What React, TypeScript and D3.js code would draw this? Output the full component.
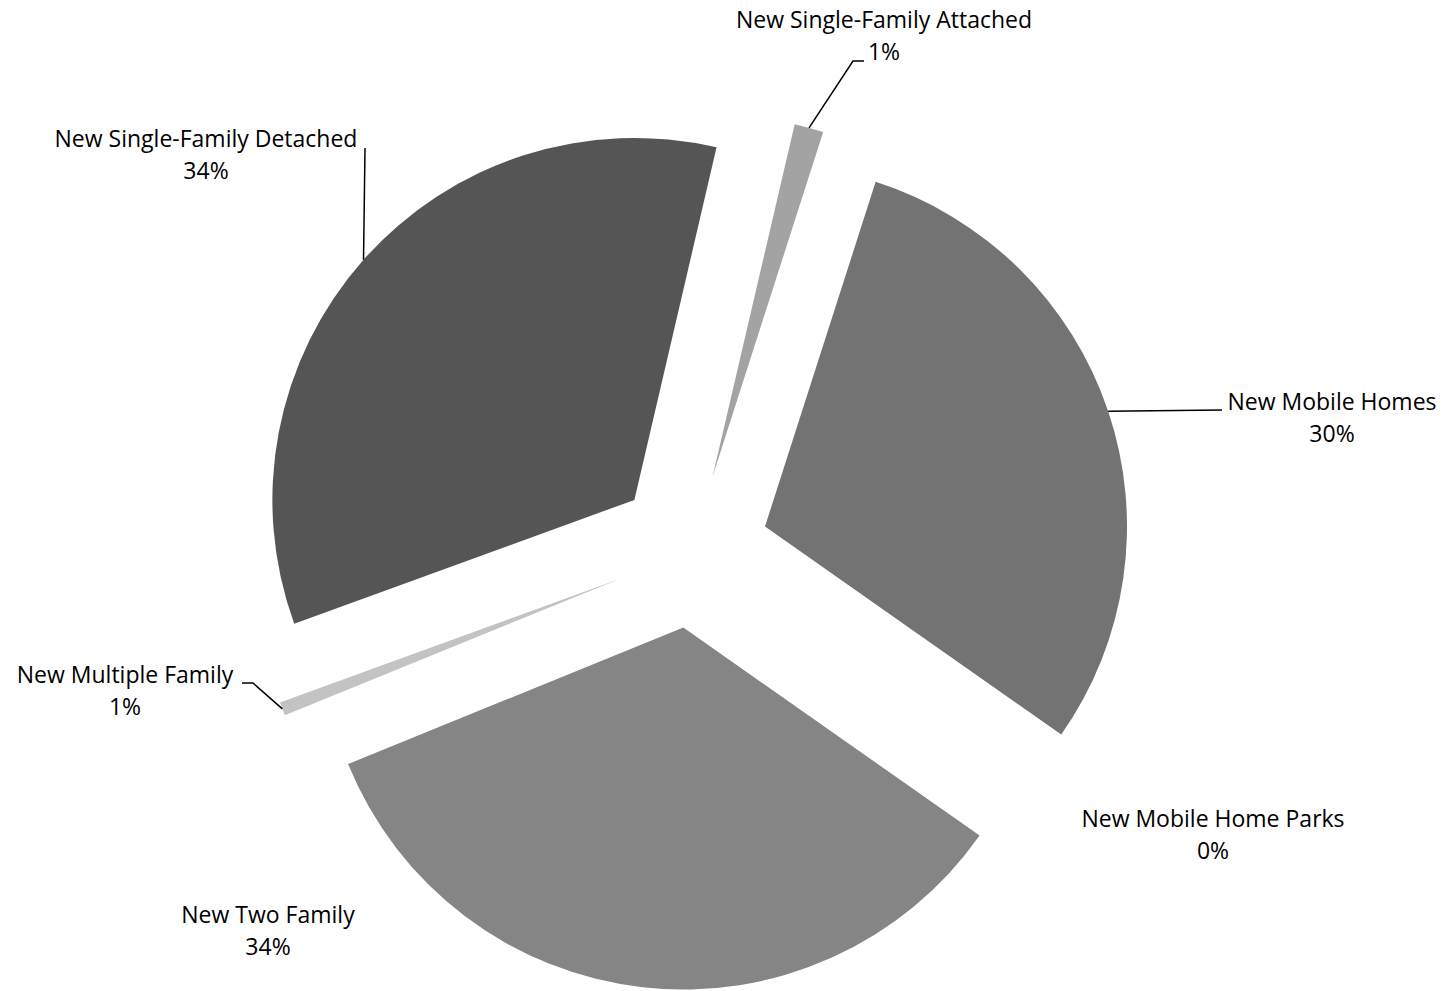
import { useEffect, useRef } from "react";
import * as d3 from "d3";

// Slices in Excel order, clockwise from the first-slice angle
const categories = [
  "New Single-Family Detached",
  "New Single-Family Attached",
  "New Mobile Homes",
  "New Mobile Home Parks",
  "New Two Family",
  "New Multiple Family",
];
const values = [34.2, 1.3, 29.8, 0, 34.1, 0.6];
const colors = ["#555555", "#a3a3a3", "#737373", "#6a6a6a", "#858585", "#c3c3c3"];

// label placement (center x, first baseline y) and leader bends
const labelLayout: { x: number; y: number; leader: [number, number][] }[] = [
  { x: 206, y: 147, leader: [[365, 148]] },
  { x: 884, y: 28, leader: [[853, 61], [864, 61]] },
  { x: 1332, y: 410, leader: [[1222, 410]] },
  { x: 1213, y: 827, leader: [] },
  { x: 268, y: 923, leader: [] },
  { x: 125, y: 683, leader: [[253, 683], [242, 683]] },
];

const WIDTH = 1450;
const HEIGHT = 991;

export default function App() {
  const svgRef = useRef<SVGSVGElement>(null);

  useEffect(() => {
    const svg = svgRef.current;
    if (!svg) return;
    const sel = d3.select(svg);
    sel.selectAll("*").remove();

    const cx = 692;
    const cy = 551;
    const radius = 362;
    const explode = 77;
    const firstAngle = (250 * Math.PI) / 180;

    const total = d3.sum(values);
    const data = categories.map((name, i) => ({
      name,
      value: values[i],
      color: colors[i],
      layout: labelLayout[i],
    }));

    const pie = d3
      .pie<(typeof data)[number]>()
      .sort(null)
      .value((d) => d.value)
      .startAngle(firstAngle)
      .endAngle(firstAngle + 2 * Math.PI);

    const arc = d3
      .arc<d3.PieArcDatum<(typeof data)[number]>>()
      .innerRadius(0)
      .outerRadius(radius);

    const arcs = pie(data);
    const g = sel.append("g").attr("transform", `translate(${cx},${cy})`);

    const offset = (a: d3.PieArcDatum<unknown>) => {
      const mid = (a.startAngle + a.endAngle) / 2;
      return [Math.sin(mid) * explode, -Math.cos(mid) * explode];
    };

    g.selectAll("path.slice")
      .data(arcs.filter((a) => a.value > 0))
      .enter()
      .append("path")
      .attr("class", "slice")
      .attr("d", arc)
      .attr("fill", (d) => d.data.color)
      .attr("transform", (d) => {
        const [dx, dy] = offset(d);
        return `translate(${dx},${dy})`;
      });

    // leader lines start at the middle of each slice's outer arc
    const line = d3.line();
    arcs.forEach((a) => {
      if (a.data.layout.leader.length === 0) return;
      const mid = (a.startAngle + a.endAngle) / 2;
      const [dx, dy] = offset(a);
      const start: [number, number] = [
        cx + dx + Math.sin(mid) * radius,
        cy + dy - Math.cos(mid) * radius,
      ];
      sel
        .append("path")
        .attr("d", line([start, ...a.data.layout.leader]))
        .attr("fill", "none")
        .attr("stroke", "#000")
        .attr("stroke-width", 1.5);
    });

    const labels = sel
      .selectAll("text.label")
      .data(arcs)
      .enter()
      .append("text")
      .attr("class", "label")
      .attr("text-anchor", "middle")
      .attr("font-family", "'Open Sans', sans-serif")
      .attr("font-size", 23)
      .attr("fill", "#000");

    labels
      .append("tspan")
      .attr("x", (d) => d.data.layout.x)
      .attr("y", (d) => d.data.layout.y)
      .text((d) => d.data.name);

    labels
      .append("tspan")
      .attr("x", (d) => d.data.layout.x)
      .attr("y", (d) => d.data.layout.y + 31.5)
      .text((d) => `${Math.round((d.data.value / total) * 100)}%`);
  }, []);

  return (
    <div style={{ position: "absolute", left: 0, top: 0, background: "#fff" }}>
      <svg ref={svgRef} width={WIDTH} height={HEIGHT} style={{ display: "block" }} />
    </div>
  );
}
